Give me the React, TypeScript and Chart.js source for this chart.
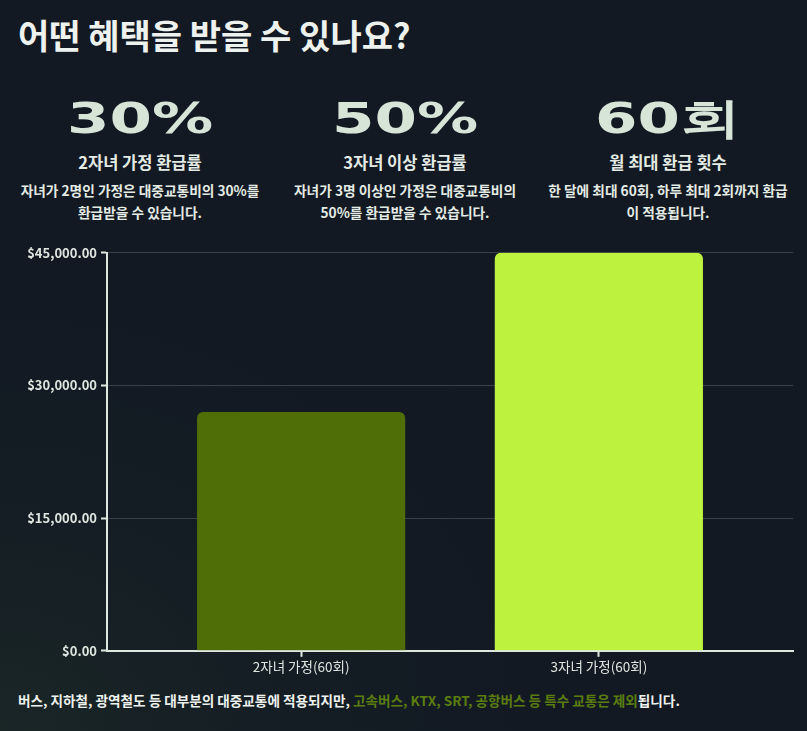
import React, { useEffect, useRef } from "react";
import { Chart, registerables } from "chart.js";

Chart.register(...registerables);

const categories: string[] = ["2자녀 가정(60회)", "3자녀 가정(60회)"];
const refundValues: number[] = [27000, 45000];
const barColors: string[] = ["#4f6e07", "#bdf23e"];
const yMax = 45000;
const yStep = 15000;

const statValues: string[] = ["30%", "50%", "60회"];
const statTitles: string[] = ["2자녀 가정 환급률", "3자녀 이상 환급률", "월 최대 환급 횟수"];
const statDescs: string[][] = [
  ["자녀가 2명인 가정은 대중교통비의 30%를", "환급받을 수 있습니다."],
  ["자녀가 3명 이상인 가정은 대중교통비의", "50%를 환급받을 수 있습니다."],
  ["한 달에 최대 60회, 하루 최대 2회까지 환급", "이 적용됩니다."],
];
const statCenters: number[] = [140, 405, 668];

const KR = '"Noto Sans CJK KR", "Noto Sans", sans-serif';
const LIGHT = "#dfe8df";

export default function App() {
  const canvasRef = useRef<HTMLCanvasElement | null>(null);

  useEffect(() => {
    if (!canvasRef.current) return;
    const points = refundValues.map((v, i) => ({ x: i, y: v }));
    const chart = new Chart(canvasRef.current, {
      type: "bar",
      data: {
        datasets: [
          {
            data: points as any,
            backgroundColor: barColors,
            borderRadius: { topLeft: 6, topRight: 6, bottomLeft: 0, bottomRight: 0 },
            borderSkipped: false,
            barPercentage: 0.874,
            categoryPercentage: 0.8,
          },
        ],
      },
      options: {
        animation: false,
        responsive: true,
        maintainAspectRatio: false,
        layout: { padding: { top: 6, right: 9, left: 0, bottom: 0 } },
        plugins: { legend: { display: false }, tooltip: { enabled: false } },
        scales: {
          x: {
            type: "linear",
            min: -0.652,
            max: categories.length - 1 + 0.652,
            offset: false,
            afterBuildTicks: (s: any) => {
              s.ticks = categories.map((_, i) => ({ value: i }));
            },
            grid: {
              offset: false,
              drawOnChartArea: false,
              drawTicks: true,
              tickLength: 6,
              tickColor: LIGHT,
              tickWidth: 2,
            },
            border: { color: LIGHT, width: 2 },
            ticks: {
              color: "#dfe6df",
              font: { family: KR, size: 13.5 },
              padding: 2,
              autoSkip: false,
              maxRotation: 0,
              callback: (v: any) => categories[Math.round(Number(v))] ?? "",
            },
          },
          y: {
            min: 0,
            max: yMax,
            afterFit: (s: any) => {
              s.width = 95;
            },
            grid: {
              color: "#3a4048",
              lineWidth: 1,
              drawTicks: true,
              tickLength: 6,
              tickColor: LIGHT,
              tickWidth: 2,
            },
            border: { color: LIGHT, width: 2 },
            ticks: {
              stepSize: yStep,
              color: "#dfe6df",
              font: { family: KR, size: 13, weight: "bold" },
              padding: 4,
              callback: (v: any) =>
                "$" + Number(v).toLocaleString("en-US", { minimumFractionDigits: 2, maximumFractionDigits: 2 }),
            },
          },
        },
      },
    });
    return () => chart.destroy();
  }, []);

  return (
    <div
      style={{
        position: "fixed",
        left: 0,
        top: 0,
        width: 807,
        height: 731,
        overflow: "hidden",
        background:
          "radial-gradient(ellipse 520px 420px at 0px 731px, #1a2626 0%, #141d24 55%, #121923 100%), #121923",
        fontFamily: KR,
      }}
    >
      <div
        style={{
          position: "absolute",
          left: 18,
          top: 12,
          fontSize: 34,
          fontWeight: 700,
          color: "#eef2ee",
          whiteSpace: "nowrap",
          lineHeight: "46px",
        }}
      >
        어떤 혜택을 받을 수 있나요?
      </div>
      {statValues.map((v, i) => (
        <div
          key={i}
          style={{
            position: "absolute",
            left: statCenters[i] - 140,
            width: 280,
            top: 88,
            textAlign: "center",
            color: "#eef2ee",
          }}
        >
          <div
            style={{
              fontFamily: '"DejaVu Sans", sans-serif',
              fontWeight: 700,
              fontSize: 43,
              lineHeight: "60px",
              color: "#d6e5d7",
              transform: "scaleX(1.42)",
              whiteSpace: "nowrap",
            }}
          >
            {v}
          </div>
          <div style={{ marginTop: 3, fontSize: 16.5, fontWeight: 700, lineHeight: "22px", color: "#e4ebe4" }}>
            {statTitles[i]}
          </div>
          <div style={{ marginTop: 6, fontSize: 13.7, fontWeight: 700, lineHeight: "22px", color: "#e4ebe4", whiteSpace: "nowrap" }}>
            {statDescs[i].map((l, j) => (
              <div key={j}>{l}</div>
            ))}
          </div>
        </div>
      ))}
      <div style={{ position: "absolute", left: 12, top: 241, width: 790, height: 436 }}>
        <canvas ref={canvasRef} />
      </div>
      <div
        style={{
          position: "absolute",
          left: 18,
          top: 690,
          fontSize: 13.6,
          fontWeight: 700,
          color: "#eef2ee",
          whiteSpace: "nowrap",
          lineHeight: "20px",
        }}
      >
        버스, 지하철, 광역철도 등 대부분의 대중교통에 적용되지만,{" "}
        <span style={{ color: "#5b7d10" }}>고속버스, KTX, SRT, 공항버스 등 특수 교통은 제외</span>됩니다.
      </div>
    </div>
  );
}
